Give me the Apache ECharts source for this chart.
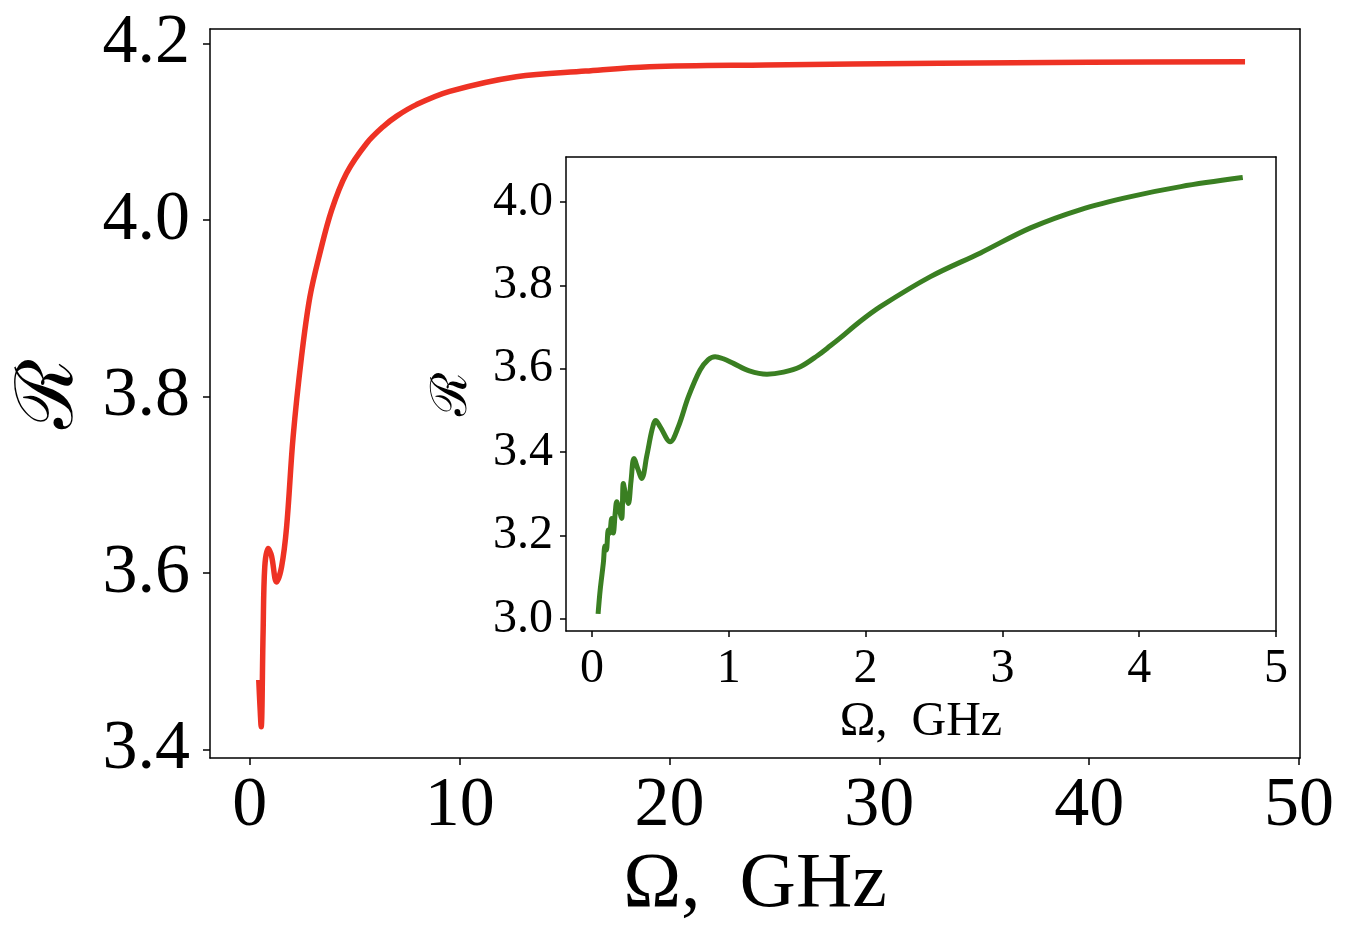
<!DOCTYPE html>
<html>
<head>
<meta charset="utf-8">
<script src="https://cdn.jsdelivr.net/npm/echarts@6/dist/echarts.min.js"></script>
<style>
  html, body { margin: 0; padding: 0; background: #fff; }
  #chart { width: 1352px; height: 930px; }
</style>
</head>
<body>
<div id="chart"></div>
<script>
// main curve: Omega (GHz) vs R
var mainOmega = [0.43, 0.47, 0.54, 0.63, 0.71, 0.87, 1.03, 1.27, 1.51, 1.75, 2.06, 2.46, 2.86, 3.33, 3.89,
    4.6, 5.56, 6.35, 7.0, 7.94, 9.52, 12.7, 16.0, 19.05, 24.6, 32.86, 40.0, 47.3];
var mainR = [3.476, 3.455, 3.426, 3.532, 3.607, 3.628, 3.620, 3.590, 3.607, 3.652, 3.754, 3.845, 3.913, 3.962, 4.011,
    4.053, 4.087, 4.106, 4.118, 4.131, 4.146, 4.1626, 4.169, 4.174, 4.1759, 4.1778, 4.179, 4.1795];

// inset: low-frequency part
var insetOmega = [0.046, 0.06, 0.083, 0.095, 0.105, 0.119, 0.128, 0.144, 0.156, 0.17, 0.181, 0.20, 0.217, 0.229,
    0.245, 0.266, 0.285, 0.307, 0.335, 0.364, 0.40, 0.44, 0.466, 0.50, 0.571, 0.63, 0.705, 0.79, 0.85, 0.90,
    0.96, 1.034, 1.15, 1.279, 1.40, 1.523, 1.65, 1.742, 1.815, 1.95, 2.108, 2.474, 2.84, 3.206, 3.572, 3.938,
    4.304, 4.739];
var insetR = [3.018, 3.07, 3.134, 3.175, 3.165, 3.213, 3.205, 3.241, 3.206, 3.255, 3.281, 3.26, 3.241, 3.325,
    3.30, 3.277, 3.33, 3.385, 3.36, 3.337, 3.39, 3.455, 3.476, 3.46, 3.425, 3.46, 3.533, 3.597, 3.622, 3.629,
    3.624, 3.613, 3.595, 3.587, 3.592, 3.605, 3.632, 3.655, 3.674, 3.711, 3.749, 3.821, 3.878, 3.938, 3.982,
    4.013, 4.037, 4.058];

var mainXTicks = [0, 10, 20, 30, 40, 50];
var mainYTicks = [3.4, 3.6, 3.8, 4.0, 4.2];
var insetXTicks = [0, 1, 2, 3, 4, 5];
var insetYTicks = [3.0, 3.2, 3.4, 3.6, 3.8, 4.0];

var serif = 'Liberation Serif';
var scriptFont = 'DejaVu Serif';

function zip(xs, ys) {
    var out = [];
    for (var i = 0; i < xs.length; i++) out.push([xs[i], ys[i]]);
    return out;
}

function frameAxis(pos, idx, min, max) {
    return {
        type: 'value', position: pos, gridIndex: idx, min: min, max: max,
        axisLine: {show: true, onZero: false, lineStyle: {color: '#000', width: 1.5}},
        axisTick: {show: false}, axisLabel: {show: false}, splitLine: {show: false}
    };
}

var chart = echarts.init(document.getElementById('chart'));
var option = {
    backgroundColor: '#ffffff',
    animation: false,
    grid: [
        {left: 210, top: 29, right: 52, bottom: 172, backgroundColor: '#fff', show: true, borderWidth: 0},
        {left: 566, top: 157, right: 76, bottom: 299, backgroundColor: '#fff', show: true, borderWidth: 0}
    ],
    xAxis: [
        {
            type: 'value', gridIndex: 0, min: -1.9, max: 50.05,
            name: 'Ω,  GHz', nameLocation: 'middle', nameGap: 84,
            nameTextStyle: {fontFamily: serif, fontSize: 78, color: '#000'},
            axisLine: {show: true, onZero: false, lineStyle: {color: '#000', width: 1.5}},
            axisTick: {show: true, length: 7, lineStyle: {color: '#000', width: 1.5}, customValues: mainXTicks},
            axisLabel: {fontFamily: serif, fontSize: 70, color: '#000', margin: 14, customValues: mainXTicks},
            splitLine: {show: false}
        },
        frameAxis('top', 0, -1.9, 50.05),
        {
            type: 'value', gridIndex: 1, min: -0.19, max: 5.0,
            name: 'Ω,  GHz', nameLocation: 'middle', nameGap: 64,
            nameTextStyle: {fontFamily: serif, fontSize: 48, color: '#000'},
            axisLine: {show: true, onZero: false, lineStyle: {color: '#000', width: 1.5}},
            axisTick: {show: true, length: 6, lineStyle: {color: '#000', width: 1.5}, customValues: insetXTicks},
            axisLabel: {fontFamily: serif, fontSize: 48, color: '#000', margin: 14, customValues: insetXTicks},
            splitLine: {show: false}
        },
        frameAxis('top', 1, -0.19, 5.0)
    ],
    yAxis: [
        {
            type: 'value', gridIndex: 0, min: 3.3906, max: 4.2167,
            name: 'ℛ', nameLocation: 'middle', nameGap: 112, nameRotate: 90,
            nameTextStyle: {fontFamily: scriptFont, fontSize: 80, color: '#000'},
            axisLine: {show: true, onZero: false, lineStyle: {color: '#000', width: 1.5}},
            axisTick: {show: true, length: 7, lineStyle: {color: '#000', width: 1.5}, customValues: mainYTicks},
            axisLabel: {fontFamily: serif, fontSize: 70, color: '#000', margin: 20, customValues: mainYTicks,
                formatter: function (v) { return v.toFixed(1); }},
            splitLine: {show: false}
        },
        frameAxis('right', 0, 3.3906, 4.2167),
        {
            type: 'value', gridIndex: 1, min: 2.971, max: 4.108,
            name: 'ℛ', nameLocation: 'middle', nameGap: 88, nameRotate: 90,
            nameTextStyle: {fontFamily: scriptFont, fontSize: 50, color: '#000'},
            axisLine: {show: true, onZero: false, lineStyle: {color: '#000', width: 1.5}},
            axisTick: {show: true, length: 6, lineStyle: {color: '#000', width: 1.5}, customValues: insetYTicks},
            axisLabel: {fontFamily: serif, fontSize: 48, color: '#000', margin: 13, customValues: insetYTicks,
                formatter: function (v) { return v.toFixed(1); }},
            splitLine: {show: false}
        },
        frameAxis('right', 1, 2.971, 4.108)
    ],
    series: [
        {
            type: 'line', xAxisIndex: 0, yAxisIndex: 0,
            data: zip(mainOmega, mainR),
            showSymbol: false, smooth: 0.35,
            lineStyle: {color: '#ee3224', width: 5.5, cap: 'square'}
        },
        {
            type: 'line', xAxisIndex: 2, yAxisIndex: 2,
            data: zip(insetOmega, insetR),
            showSymbol: false, smooth: 0.35,
            lineStyle: {color: '#3a7f22', width: 5, cap: 'square'}
        }
    ]
};
chart.setOption(option);
</script>
</body>
</html>
